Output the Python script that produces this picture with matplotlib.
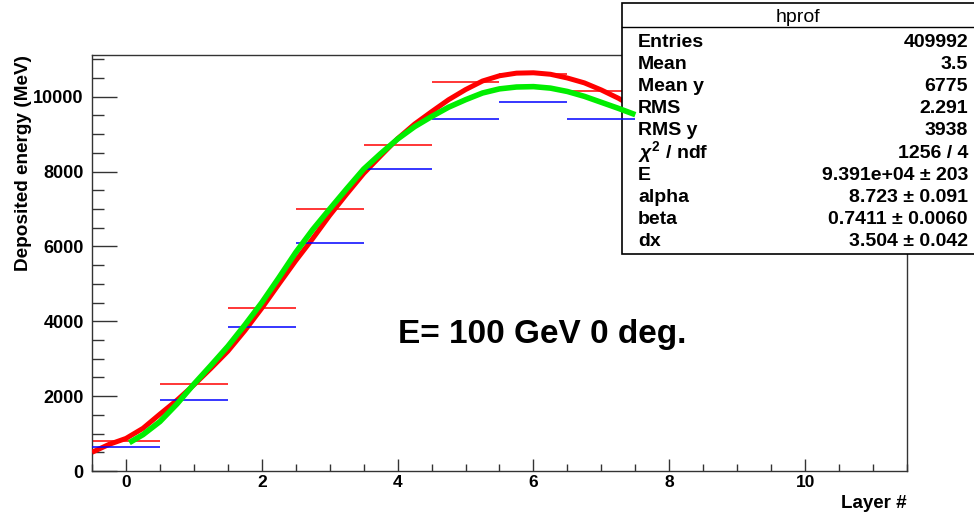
import numpy as np
import matplotlib
matplotlib.use('Agg')
import matplotlib.pyplot as plt
from matplotlib.patches import Rectangle
from matplotlib.lines import Line2D
from matplotlib.ticker import MultipleLocator

plt.rcParams['font.family'] = ['Liberation Sans', 'DejaVu Sans']
plt.rcParams['font.weight'] = 'bold'
plt.rcParams['mathtext.fontset'] = 'custom'
plt.rcParams['mathtext.rm'] = 'Liberation Sans'
plt.rcParams['mathtext.it'] = 'Liberation Sans:italic'

# profile bins (layer number) and mean deposited energy
layers = [0, 1, 2, 3, 4, 5, 6, 7]
red_bins = [810, 2330, 4360, 7000, 8716, 10390, 10620, 10140]
blue_bins = [650, 1890, 3850, 6090, 8066, 9410, 9870, 9400]

# fitted curves
red_x = [-0.5, -0.25, 0, 0.25, 0.5, 0.75, 1.0, 1.25, 1.5, 1.75, 2.0, 2.25, 2.5, 2.75,
         3.0, 3.25, 3.5, 3.75, 4.0, 4.25, 4.5, 4.75, 5.0, 5.25, 5.5, 5.75, 6.0,
         6.25, 6.5, 6.75, 7.0, 7.25, 7.5]
red_y = [500, 710, 870, 1140, 1520, 1890, 2300, 2740, 3200, 3750, 4350, 4990, 5620, 6210,
         6830, 7400, 7950, 8420, 8880, 9270, 9600, 9920, 10190, 10420, 10560, 10630, 10640,
         10600, 10500, 10370, 10180, 9960, 9700]
green_x = [0.05, 0.25, 0.5, 0.75, 1.0, 1.25, 1.5, 1.75, 2.0, 2.25, 2.5, 2.75,
           3.0, 3.25, 3.5, 3.75, 4.0, 4.25, 4.5, 4.75, 5.0, 5.25, 5.5, 5.75, 6.0,
           6.25, 6.5, 6.75, 7.0, 7.25, 7.5]
green_y = [757, 970, 1320, 1790, 2320, 2820, 3330, 3900, 4500, 5160, 5840, 6450,
           7000, 7540, 8066, 8480, 8870, 9200, 9470, 9720, 9920, 10100, 10210, 10260, 10270,
           10230, 10140, 10010, 9850, 9690, 9520]

stat_names = ['Entries', 'Mean', 'Mean y', 'RMS', 'RMS y', r'$\chi^{2}$ / ndf', 'E', 'alpha', 'beta', 'dx']
stat_values = ['409992', '3.5', '6775', '2.291', '3938', '1256 / 4',
               '9.391e+04 ± 203', '8.723 ± 0.091', '0.7411 ± 0.0060', '3.504 ± 0.042']

W, H = 974, 515
fig = plt.figure(figsize=(W / 100, H / 100), dpi=100)
ax = fig.add_axes([92 / W, 1 - 471 / H, (907 - 92) / W, (471 - 55) / H])

# bins drawn as horizontal bars
lay = np.array(layers)
ax.hlines(red_bins, lay - 0.5, lay + 0.5, colors='#ff0000', lw=1.1, zorder=2)
ax.plot(red_x, red_y, color='#ff0000', lw=3.6, solid_capstyle='butt', zorder=3)
ax.hlines(blue_bins, lay - 0.5, lay + 0.5, colors='#0000ff', lw=1.1, zorder=5)
ax.plot(green_x, green_y, color='#00ee00', lw=4.0, solid_capstyle='butt', zorder=6)

ax.set_xlim(-0.5, 11.5)
ax.set_ylim(0, 11115)
ax.xaxis.set_major_locator(MultipleLocator(2))
ax.xaxis.set_minor_locator(MultipleLocator(0.5))
ax.yaxis.set_major_locator(MultipleLocator(2000))
ax.yaxis.set_minor_locator(MultipleLocator(500))
ax.tick_params(axis='both', which='both', direction='in', color='#333333', width=1.0)
ax.tick_params(axis='y', which='major', length=18, pad=6, labelsize=13)
ax.tick_params(axis='y', which='minor', length=8.6)
ax.tick_params(axis='x', which='major', length=9, pad=3, labelsize=12.5)
ax.tick_params(axis='x', which='minor', length=4.8)
for s in ax.spines.values():
    s.set_color('#333333')
    s.set_linewidth(1.0)

# axis titles
fig.text(24 / W, 1 - 55 / H, 'Deposited energy (MeV)', rotation=90, ha='center', va='top',
         fontsize=13.7, fontweight='bold')
fig.text(907 / W, 1 - 508 / H, 'Layer #', ha='right', va='baseline', fontsize=13.5,
         fontweight='bold')
fig.text(398 / W, 1 - 343 / H, 'E= 100 GeV 0 deg.', ha='left', va='baseline', fontsize=24,
         fontweight='bold')

# stats box, sits between the red and the blue/green layers
bx0, bx1, by0, by1 = 622, 982, 254, 3
box = Rectangle((bx0 / W, 1 - by0 / H), (bx1 - bx0) / W, (by0 - by1) / H,
                transform=fig.transFigure, facecolor='white', edgecolor='black', lw=1.2,
                clip_on=False, zorder=4)
ax.add_patch(box)
ax.add_line(Line2D([bx0 / W, bx1 / W], [1 - 27 / H, 1 - 27 / H], transform=fig.transFigure,
                   color='black', lw=1.0, clip_on=False, zorder=4.1))
ax.text((bx0 + 974) / 2 / W, 1 - 21.7 / H, 'hprof', transform=fig.transFigure, ha='center',
        va='baseline', fontsize=14, fontweight='normal', zorder=4.2, clip_on=False)
for i, (nm, vl) in enumerate(zip(stat_names, stat_values)):
    yb = 1 - (46.7 + 22.2 * i) / H
    ax.text(638 / W, yb, nm, transform=fig.transFigure, ha='left', va='baseline',
            fontsize=14, fontweight='bold', zorder=4.2, clip_on=False)
    ax.text(968 / W, yb, vl, transform=fig.transFigure, ha='right', va='baseline',
            fontsize=14, fontweight='bold', zorder=4.2, clip_on=False)

fig.savefig('out.png', dpi=100)
